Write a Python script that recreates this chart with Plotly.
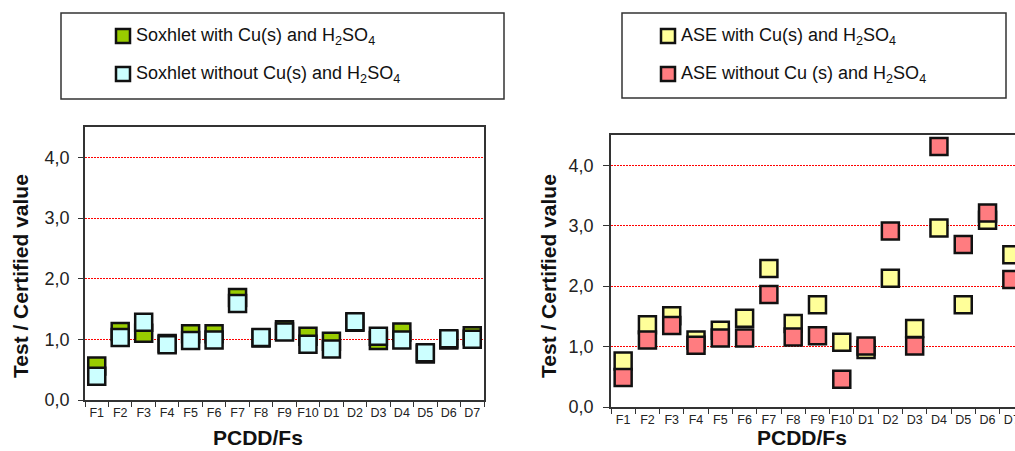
import plotly.graph_objects as go

# Congeners on the x axis
categories = ["F1", "F2", "F3", "F4", "F5", "F6", "F7", "F8", "F9", "F10",
              "D1", "D2", "D3", "D4", "D5", "D6", "D7"]

# Ratio test / certified value, Soxhlet extraction
soxhlet_with_cu = [0.56, 1.13, 1.10, 0.93, 1.09, 1.09, 1.69, 1.02, 1.16, 1.05,
                   0.97, 1.28, 0.98, 1.12, 0.76, 0.99, 1.06]
soxhlet_without_cu = [0.39, 1.03, 1.28, 0.91, 0.98, 0.99, 1.59, 1.03, 1.12, 0.92,
                      0.84, 1.29, 1.05, 0.99, 0.78, 1.01, 1.00]

# Ratio test / certified value, ASE extraction
ase_with_cu = [0.76, 1.36, 1.51, 1.11, 1.27, 1.47, 2.29, 1.38, 1.69, 1.07,
               0.95, 2.13, 1.30, 2.96, 1.69, 3.09, 2.52]
ase_without_cu = [0.49, 1.11, 1.35, 1.02, 1.14, 1.14, 1.86, 1.16, 1.18, 0.46,
                  1.01, 2.91, 1.01, 4.31, 2.69, 3.21, 2.11]

W, H = 1015, 451
FONT = "Arial, Liberation Sans, sans-serif"
GREEN, CYAN, YELLOW, SALMON = "#99cc00", "#ccffff", "#ffff99", "#ff7c80"


def px(x):
    return x / W


def py(y):
    return 1 - y / H


def series(x, y, color, name, xa, ya):
    return go.Scatter(
        x=x, y=y, name=name, mode="markers", xaxis=xa, yaxis=ya,
        showlegend=False, cliponaxis=True,
        marker=dict(symbol="square", size=17, color=color,
                    line=dict(color="#111111", width=2.5)),
    )


fig = go.Figure()
fig.add_trace(series(categories, soxhlet_with_cu, GREEN,
                     "Soxhlet with Cu(s) and H2SO4", "x", "y"))
fig.add_trace(series(categories, soxhlet_without_cu, CYAN,
                     "Soxhlet without Cu(s) and H2SO4", "x", "y"))
fig.add_trace(series(categories, ase_with_cu, YELLOW,
                     "ASE with Cu(s) and H2SO4", "x2", "y2"))
fig.add_trace(series(categories, ase_without_cu, SALMON,
                     "ASE without Cu (s) and H2SO4", "x2", "y2"))

common_x = dict(
    type="category", showline=True, linecolor="#333333", linewidth=1.5,
    ticks="outside", tickson="boundaries", ticklen=5, tickcolor="#333333",
    showgrid=False, zeroline=False, tickangle=0, automargin=False,
    tickfont=dict(family=FONT, size=12.5, color="#222222"),
)
common_y = dict(
    range=[0, 4.5], dtick=1, tick0=0, tickformat=".1f",
    showline=True, linecolor="#333333", linewidth=1.5,
    ticks="outside", ticklen=5, tickcolor="#333333",
    showgrid=True, gridcolor="#ff0000", griddash="2px,1px", gridwidth=1,
    zeroline=False, automargin=False,
    tickfont=dict(family=FONT, size=18, color="#222222"),
)

fig.update_layout(
    template="none",
    width=W, height=H, autosize=False,
    margin=dict(l=0, r=0, t=0, b=0, pad=0),
    paper_bgcolor="white", plot_bgcolor="white",
    separators=",.",
    font=dict(family=FONT),
    showlegend=False,
    xaxis=dict(common_x, domain=[px(85), px(484)], range=[-0.5, 16.5],
               anchor="y", mirror=True),
    yaxis=dict(common_y, domain=[py(400), py(127)], anchor="x", mirror=True,
               ticklabelstandoff=5),
    xaxis2=dict(common_x, domain=[px(611), 1.0],
                range=[-0.5, 16.13], anchor="y2", mirror=True),
    yaxis2=dict(common_y, domain=[py(407), py(135)], anchor="x2",
                ticklen=6, ticklabelstandoff=6),
)

# Legend frames and entries
shapes = []
annotations = []


def legend_box(x0, y0, x1, y1):
    shapes.append(dict(type="rect", xref="paper", yref="paper",
                       x0=px(x0), x1=px(x1), y0=py(y1), y1=py(y0),
                       line=dict(color="#333333", width=1.5),
                       fillcolor="white", layer="below"))


def legend_entry(xm, ym, color, text):
    shapes.append(dict(type="rect", xref="paper", yref="paper",
                       x0=px(xm - 7), x1=px(xm + 7), y0=py(ym + 7), y1=py(ym - 7),
                       line=dict(color="#111111", width=2.5), fillcolor=color))
    annotations.append(dict(xref="paper", yref="paper", x=px(xm + 11), y=py(ym),
                            xanchor="left", yanchor="middle", showarrow=False,
                            text=text, font=dict(family=FONT, size=18,
                                                 color="#111111")))


legend_box(61, 13, 504, 99)
legend_entry(123, 36, GREEN, "Soxhlet with Cu(s) and H<sub>2</sub>SO<sub>4</sub>")
legend_entry(123, 74, CYAN, "Soxhlet without Cu(s) and H<sub>2</sub>SO<sub>4</sub>")

legend_box(622, 13, 1006, 98)
legend_entry(668, 36, YELLOW, "ASE with Cu(s) and H<sub>2</sub>SO<sub>4</sub>")
legend_entry(668, 74, SALMON, "ASE without Cu (s) and H<sub>2</sub>SO<sub>4</sub>")

# Axis titles
title_font = dict(family=FONT, size=21, color="#111111")
for xc, yc in [(20, 276), (548, 276)]:
    annotations.append(dict(xref="paper", yref="paper", x=px(xc), y=py(yc),
                            xanchor="center", yanchor="middle", showarrow=False,
                            textangle=-90, text="<b>Test / Certified value</b>",
                            font=title_font))
for xc in (258, 802):
    annotations.append(dict(xref="paper", yref="paper", x=px(xc), y=py(451),
                            xanchor="center", yanchor="bottom", showarrow=False,
                            text="<b>PCDD/Fs</b>", font=title_font))

fig.update_layout(shapes=shapes, annotations=annotations)

fig.write_html("out.html")
